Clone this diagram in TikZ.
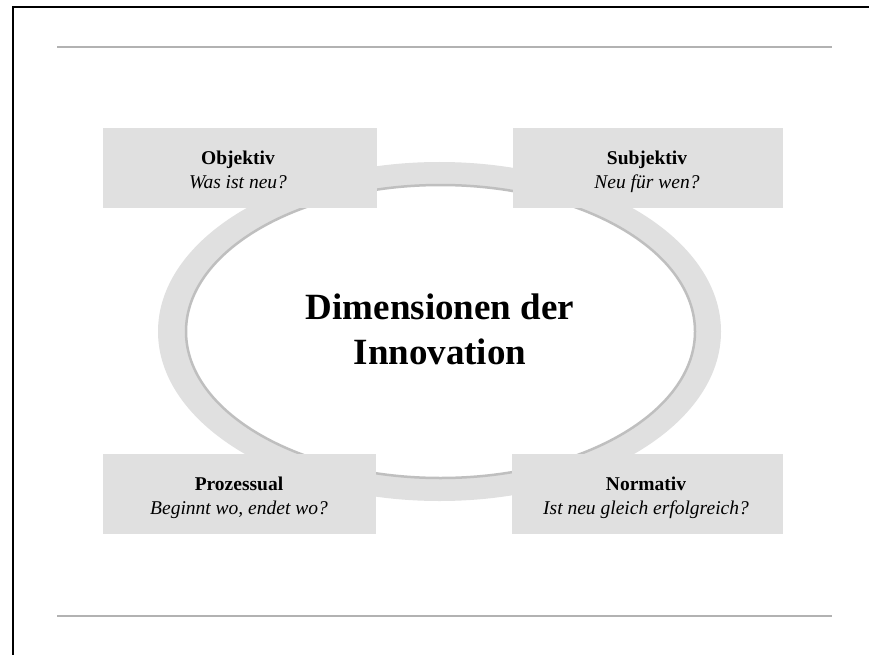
\documentclass[tikz,border=0pt]{standalone}
\usepackage{fontspec}
\setmainfont{Liberation Serif}
\begin{document}
\begin{tikzpicture}[x=1pt,y=-1pt,
  frameline/.style={line width=2pt,black},
  ruleline/.style={line width=2pt,draw=black!30},
  dimbox/.style={fill=black!12,draw=none,minimum height=80pt,inner sep=0pt},
  dimtext/.style={align=center,inner sep=0pt,font=\fontsize{19.5}{24}\selectfont},
  ringfill/.style={fill=black!12,draw=none},
  corefill/.style={fill=white,draw=black!25,line width=2.5pt},
  title/.style={align=center,font=\fontsize{37}{45}\selectfont\bfseries}]
\useasboundingbox (0,0) rectangle (869,655);
\fill[white] (0,0) rectangle (869,655);
% outer frame
\coordinate (ftl) at (13,7.5);
\coordinate (ftr) at (869,7.5);
\coordinate (fbl) at (13,655);
\draw[frameline] (ftr) -- (ftl) -- (fbl);
% horizontal rules
\coordinate (r1a) at (57,47);
\coordinate (r1b) at (832,47);
\coordinate (r2a) at (57,616);
\coordinate (r2b) at (832,616);
\draw[ruleline] (r1a) -- (r1b);
\draw[ruleline] (r2a) -- (r2b);
% ring and core
\fill[ringfill] (439.5,331.5) ellipse [x radius=281.5, y radius=169.5];
\filldraw[corefill] (440.5,331.5) ellipse [x radius=254.5, y radius=146.5];
\node[title] (core) at (440,329) {Dimensionen der\\Innovation};
% the four dimensions: grey panels
\node[dimbox,minimum width=274pt] (obj) at (240,168) {};
\node[dimbox,minimum width=270pt] (subj) at (648,168) {};
\node[dimbox,minimum width=273pt] (proz) at (239.5,494) {};
\node[dimbox,minimum width=271pt] (norm) at (647.5,494) {};
% panel texts (struts keep the baselines equal)
\node[dimtext] (objt) at (238,172) {\strut\textbf{Objektiv}\\\strut\textit{Was ist neu?}};
\node[dimtext] (subjt) at (647,172) {\strut\textbf{Subjektiv}\\\strut\textit{Neu für wen?}};
\node[dimtext] (prozt) at (239,497.5) {\strut\textbf{Prozessual}\\\strut\textit{Beginnt wo, endet wo?}};
\node[dimtext] (normt) at (646,497.5) {\strut\textbf{Normativ}\\\strut\textit{Ist neu gleich erfolgreich?}};
\end{tikzpicture}
\end{document}
